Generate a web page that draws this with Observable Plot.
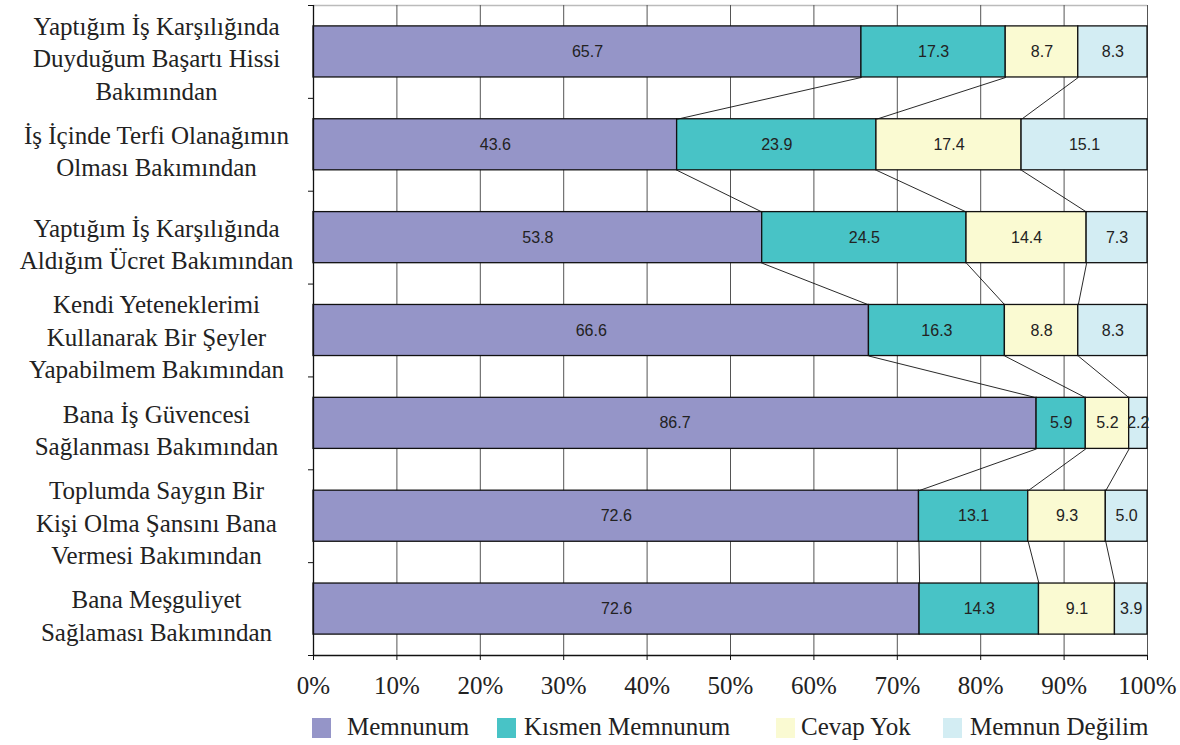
<!DOCTYPE html>
<html>
<head>
<meta charset="utf-8">
<script src="https://cdn.jsdelivr.net/npm/d3@7"></script>
<script src="https://cdn.jsdelivr.net/npm/@observablehq/plot@0.6"></script>
<style>
  body { margin: 0; background: #fff; }
  #wrap { position: relative; width: 1180px; height: 745px; }
  #legend { position: absolute; top: 712px; left: 0; width: 1180px; height: 30px; font-family: 'Liberation Serif', 'Times New Roman', Times, 'DejaVu Serif', serif; font-size: 25px; color: #222; }
  .sw { position: absolute; top: 6px; width: 19px; height: 20px; }
  .lt { position: absolute; top: 0; height: 30px; line-height: 30px; white-space: nowrap; }
</style>
</head>
<body>
<div id="wrap"><div id="chart"></div><div id="legend"></div></div>
<script>
const categories = [
  "Yaptığım İş Karşılığında\nDuyduğum Başartı Hissi\nBakımından",
  "İş İçinde Terfi Olanağımın\nOlması Bakımından",
  "Yaptığım İş Karşılığında\nAldığım Ücret Bakımından",
  "Kendi Yeteneklerimi\nKullanarak Bir Şeyler\nYapabilmem Bakımından",
  "Bana İş Güvencesi\nSağlanması Bakımından",
  "Toplumda Saygın Bir\nKişi Olma Şansını Bana\nVermesi Bakımından",
  "Bana Meşguliyet\nSağlaması Bakımından"
];
const seriesNames = ["Memnunum", "Kısmen Memnunum", "Cevap Yok", "Memnun Değilim"];
const memnunum = [65.7, 43.6, 53.8, 66.6, 86.7, 72.6, 72.6];
const kismenMemnunum = [17.3, 23.9, 24.5, 16.3, 5.9, 13.1, 14.3];
const cevapYok = [8.7, 17.4, 14.4, 8.8, 5.2, 9.3, 9.1];
const memnunDegilim = [8.3, 15.1, 7.3, 8.3, 2.2, 5.0, 3.9];
const xTicks = [0, 10, 20, 30, 40, 50, 60, 70, 80, 90, 100];
const colors = ["#9595c8", "#48c3c6", "#fafad2", "#d3edf3"];

const serif = "'Liberation Serif', 'Times New Roman', Times, 'DejaVu Serif', serif";
const sans = "'Liberation Sans', Arial, Helvetica, sans-serif";

const seriesValues = [memnunum, kismenMemnunum, cevapYok, memnunDegilim];
const half = 0.275;

const segments = [];
const ends = [];
categories.forEach((c, i) => {
  const vals = seriesValues.map(s => s[i]);
  const total = d3.sum(vals);
  let cum = 0;
  ends[i] = [];
  vals.forEach((v, k) => {
    const x1 = cum / total * 100;
    cum += v;
    const x2 = cum / total * 100;
    ends[i].push(x2);
    segments.push({row: i, series: seriesNames[k], value: v, x1, x2, y1: i - half, y2: i + half});
  });
});
const links = [];
for (let i = 0; i < categories.length - 1; i++) {
  for (let k = 0; k < 3; k++) {
    links.push({x1: ends[i][k], y1: i + half, x2: ends[i + 1][k], y2: i + 1 - half});
  }
}
const rows = categories.map((c, i) => i);
const boundaries = d3.range(categories.length + 1).map(i => i - 0.5);

const plot = Plot.plot({
  width: 1180,
  height: 705,
  marginLeft: 313,
  marginRight: 33,
  marginTop: 5,
  marginBottom: 50,
  style: {fontFamily: serif, fontSize: "25px", color: "#222", background: "#fff"},
  x: {domain: [0, 100]},
  y: {domain: [-0.5, 6.5], reverse: true},
  color: {domain: seriesNames, range: colors},
  marks: [
    Plot.ruleY([-0.5], {stroke: "#bbb", strokeWidth: 1.5}),
    Plot.ruleX(xTicks.filter(d => d > 0), {stroke: "#555", strokeWidth: 1}),
    Plot.rect(segments, {x1: "x1", x2: "x2", y1: "y1", y2: "y2", fill: "series", stroke: "#111", strokeWidth: 1.3}),
    Plot.link(links, {x1: "x1", y1: "y1", x2: "x2", y2: "y2", stroke: "#111", strokeWidth: 0.9}),
    Plot.text(segments, {x: d => (d.x1 + d.x2) / 2, y: "row", text: d => d.value.toFixed(1), fontFamily: sans, fontSize: 16, fill: "#222"}),
    Plot.ruleX([0], {stroke: "#111", strokeWidth: 1.3}),
    Plot.ruleY([6.5], {stroke: "#111", strokeWidth: 1.3}),
    Plot.axisY(boundaries, {tickSize: 5, tickFormat: () => "", stroke: "#111"}),
    Plot.text(rows, {y: d => d, frameAnchor: "left", dx: -157, dy: 5, text: d => categories[d], textAnchor: "middle", lineAnchor: "middle", lineHeight: 1.3, fontSize: 25, fontFamily: serif, fill: "#222"}),
    Plot.axisX(xTicks, {tickSize: 5, tickPadding: 16, tickFormat: d => d + "%", fontSize: 25, fontFamily: serif, stroke: "#111", fill: "#222"})
  ]
});
document.getElementById("chart").appendChild(plot);

const swatchLeft = [312, 497, 776, 943];
const textLeft = [347, 524, 801, 970];
const legend = document.getElementById("legend");
seriesNames.forEach((n, k) => {
  const sw = document.createElement("div");
  sw.className = "sw";
  sw.style.left = swatchLeft[k] + "px";
  sw.style.background = colors[k];
  const t = document.createElement("div");
  t.className = "lt";
  t.style.left = textLeft[k] + "px";
  t.textContent = n;
  legend.appendChild(sw);
  legend.appendChild(t);
});
</script>
</body>
</html>
